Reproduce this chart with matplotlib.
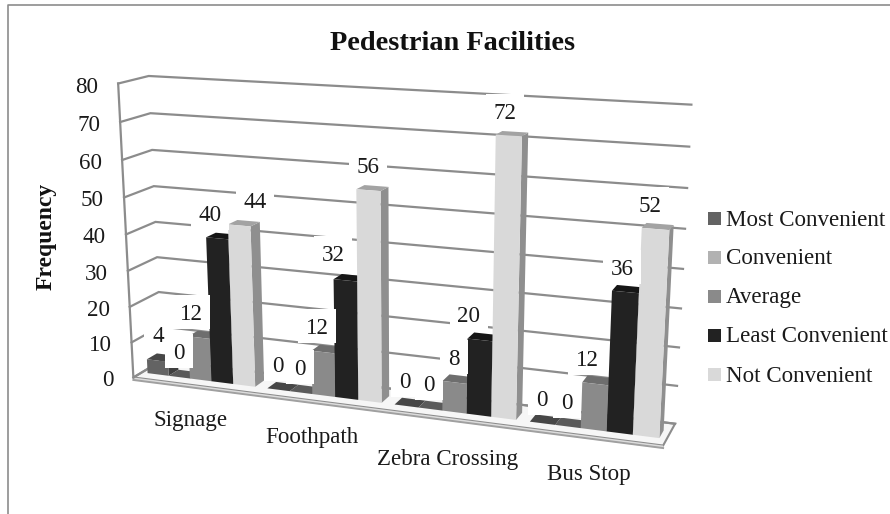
import numpy as np
import matplotlib
matplotlib.use("Agg")
import matplotlib.pyplot as plt
from matplotlib.patches import Polygon, Rectangle

categories = ["Signage", "Foothpath", "Zebra Crossing", "Bus Stop"]
series_names = ["Most Convenient", "Convenient", "Average", "Least Convenient", "Not Convenient"]
most_convenient = [4, 0, 0, 0]
convenient = [0, 0, 0, 0]
average = [12, 12, 8, 12]
least_convenient = [40, 32, 20, 36]
not_convenient = [44, 56, 72, 52]
series_values = [most_convenient, convenient, average, least_convenient, not_convenient]
z_ticks = list(range(0, 90, 10))

W, H = 890, 514
fig = plt.figure(figsize=(W / 100, H / 100), dpi=100, facecolor="white")
ax = fig.add_axes([0, 0, 1, 1])
ax.set_xlim(0, W)
ax.set_ylim(H, 0)
ax.axis("off")
plt.rcParams["font.family"] = ["Liberation Serif", "DejaVu Serif"]
FS = 16.6
TXT = "#1a1a1a"
DY = 2.5  # optical centring of text

# camera calibration: (u along categories, d depth, z value) -> pixel
calib = [(0,0,80,117,84),(0,0,70,120,122),(0,0,60,122,160),(0,0,50,125,197),(0,0,40,126,235),
         (0,0,30,128,271),(0,0,20,130,306),(0,0,10,132,342),(0,0,0,133,377),
         (0,1,80,149,76),(0,1,70,151,113),(0,1,60,152,150),(0,1,50,153,186),(0,1,40,156,222),
         (0,1,30,157,257),(0,1,20,158,292),(0,1,0,162,362),
         (1,1,80,692,105),(1,1,70,689,147),(1,1,60,687,188),(1,1,50,685,229),(1,1,40,683,268),
         (1,1,30,681,308),(1,1,20,679,347),(1,1,10,677,386),(1,1,0,675,423),(1,0,0,663,447)]
A = []
b = []
for u, d, z, x, y in calib:
    z = z / 80
    A.append([u, d, z, 1, 0, 0, 0, 0, -x * u, -x * d, -x * z]); b.append(x)
    A.append([0, 0, 0, 0, u, d, z, 1, -y * u, -y * d, -y * z]); b.append(y)
p = np.linalg.lstsq(np.array(A, float), np.array(b, float), rcond=None)[0]
P = np.append(p, 1).reshape(3, 4)


def proj(u, d, z):
    w = P @ np.array([u, d, z / 80, 1.0])
    return (w[0] / w[2], w[1] / w[2])


GRID = "#8c8c8c"
# floor slab
floor = [proj(0, 0, 0), proj(1, 0, 0), proj(1, 1, 0), proj(0, 1, 0)]
ax.add_patch(Polygon(floor, closed=True, fc="#f6f6f6", ec=GRID, lw=1.5, zorder=1))
x0, y0 = proj(0, 0, 0)
x1, y1 = proj(1, 0, 0)
ax.add_patch(Polygon([(x0, y0), (x1, y1), (x1, y1 + 3), (x0 + 1, y0 + 3)], closed=True,
                     fc="#dcdcdc", ec="none", zorder=1))
ax.plot([x0, x1], [y0 + 2.5, y1 + 2.5], color="#a0a0a0", lw=1.4, zorder=1)

# gridlines and walls
for z in z_ticks:
    a, bk, c = proj(0, 0, z), proj(0, 1, z), proj(1, 1, z)
    ax.plot([a[0], bk[0], c[0]], [a[1], bk[1], c[1]], color=GRID, lw=1.6, zorder=1,
            solid_joinstyle="miter")
    ax.text(a[0] - 20, a[1] + 1 + DY, str(z), ha="right", va="center", fontsize=FS, color=TXT, zorder=6)
a, bk = proj(0, 0, 0), proj(0, 0, 80)
ax.plot([a[0], bk[0]], [a[1], bk[1]], color=GRID, lw=1.6, zorder=1)

# bars
front_col = ["#636363", "#b2b2b2", "#8a8a8a", "#222222", "#d9d9d9"]
top_col = ["#474747", "#5a5a5a", "#6e6e6e", "#161616", "#a3a3a3"]
side_col = ["#3f3f3f", "#808080", "#5f5f5f", "#111111", "#8f8f8f"]
D0, D1 = 0.29, 0.64
US = 0.0
n_g, n_s = len(categories), len(series_names)
GAP = 0.55
for g in range(n_g):
    unit = 1 / n_g / (n_s + GAP)
    for s in range(n_s):
        v = series_values[s][g]
        ul = g / n_g + (GAP / 2 + s) * unit + US
        ur = ul + unit
        z = 3 * s + 10 * g
        ax.add_patch(Polygon([proj(ur, D0, 0), proj(ur, D1, 0), proj(ur, D1, v), proj(ur, D0, v)],
                             fc=side_col[s], ec="none", zorder=2 + z * .01))
        ax.add_patch(Polygon([proj(ul, D0, v), proj(ur, D0, v), proj(ur, D1, v), proj(ul, D1, v)],
                             fc=top_col[s], ec="none", zorder=2 + z * .01))
        if v > 0:
            ax.add_patch(Polygon([proj(ul, D0, 0), proj(ur, D0, 0), proj(ur, D0, v), proj(ul, D0, v)],
                                 fc=front_col[s], ec="none", zorder=2 + (z + 1) * .01))

# data labels (layout per series, per group) with opaque white boxes
label_x = [[158, 278, 405, 542], [179, 300, 429, 567], [191, 317, 454, 587],
           [210, 333, 469, 622], [255, 368, 505, 650]]
label_y = [[334, 364, 380, 398], [351, 367, 383, 401], [312, 326, 357, 358],
           [213, 253, 314, 267], [200, 165, 111, 204]]
for s in range(n_s):
    for g in range(n_g):
        t = str(series_values[s][g])
        wb = 38 if len(t) == 2 else 28
        lx, ly = label_x[s][g], label_y[s][g]
        ax.add_patch(Rectangle((lx - wb / 2, ly - 17), wb, 34, fc="white", ec="none", zorder=4))
for s in range(n_s):
    for g in range(n_g):
        ax.text(label_x[s][g], label_y[s][g] + DY, str(series_values[s][g]), ha="center", va="center",
                fontsize=FS, color=TXT, zorder=6)

# category labels
cat_x = [191, 312, 448, 589]
cat_y = [418, 435, 457, 472]
for name, x, y in zip(categories, cat_x, cat_y):
    ax.text(x, y + DY, name, ha="center", va="center", fontsize=FS, color=TXT, zorder=6)

# legend
leg_y = [218.5, 257.5, 296.5, 335.5, 374.5]
for name, col, y in zip(series_names, front_col, leg_y):
    ax.add_patch(Rectangle((708, y - 6.5), 13, 13, fc=col, ec="none", zorder=6))
    ax.text(726, y + DY - 1, name, ha="left", va="center", fontsize=FS, color=TXT, zorder=6)

ax.text(453, 44, "Pedestrian Facilities", ha="center", va="center", fontsize=20.4,
        fontweight="bold", color="#111111", zorder=6)
ax.text(46, 236, "Frequency", ha="center", va="center", rotation=90, fontsize=17,
        fontweight="bold", color="#111111", zorder=6)

# chart area border
ax.plot([890, 8, 8], [5, 5, 514], color="#8c8c8c", lw=1.2, zorder=0)

fig.savefig("out.png", dpi=100)
